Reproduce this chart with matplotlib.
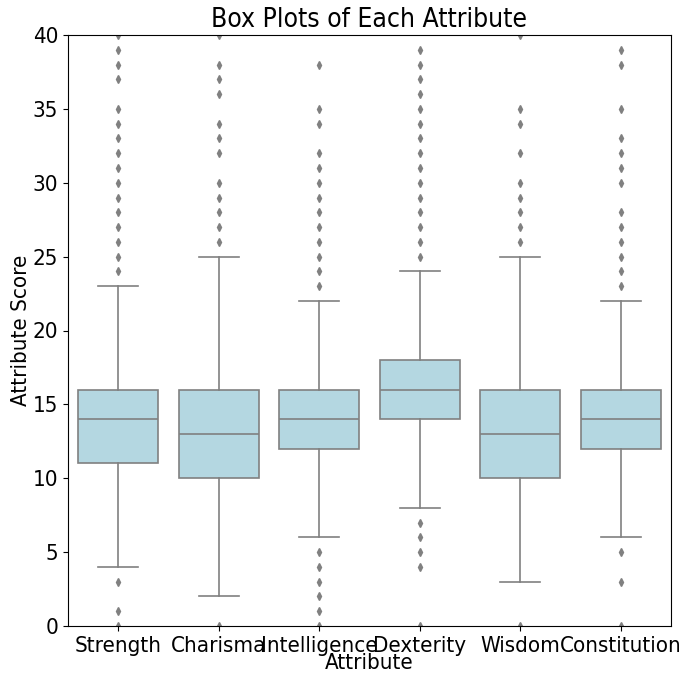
import matplotlib
matplotlib.use("Agg")
import matplotlib.pyplot as plt

# attribute box stats
attributes = ["Strength", "Charisma", "Intelligence", "Dexterity", "Wisdom", "Constitution"]
q1 = [11, 10, 12, 14, 10, 12]
medians = [14, 13, 14, 16, 13, 14]
q3 = [16, 16, 16, 18, 16, 16]
whisker_low = [4, 2, 6, 8, 3, 6]
whisker_high = [23, 25, 22, 24, 25, 22]

fliers = [
    [0, 1, 3, 24, 25, 26, 27, 28, 29, 30, 31, 32, 33, 34, 35, 37, 38, 39, 40],
    [0, 26, 27, 28, 29, 30, 32, 33, 34, 36, 37, 38, 40],
    [0, 1, 2, 3, 4, 5, 23, 24, 25, 26, 27, 28, 29, 30, 31, 32, 34, 35, 38],
    [0, 4, 5, 6, 7, 25, 26, 27, 28, 29, 30, 31, 32, 33, 34, 35, 36, 37, 38, 39],
    [0, 26, 27, 28, 29, 30, 32, 34, 35, 40],
    [0, 3, 5, 23, 24, 25, 26, 27, 28, 30, 31, 32, 33, 35, 38, 39],
]

plt.rcParams['font.family'] = 'DejaVu Sans'
plt.rcParams['font.stretch'] = 'condensed'

stats = []
for i in range(len(attributes)):
    stats.append({
        "label": attributes[i],
        "q1": q1[i], "med": medians[i], "q3": q3[i],
        "whislo": whisker_low[i], "whishi": whisker_high[i],
        "fliers": fliers[i],
    })

line_col = "#808080"
fig = plt.figure(figsize=(6.84, 6.74), dpi=100)
ax = fig.add_axes([68 / 684, 48 / 674, 603 / 684, 591 / 674])
ax.bxp(stats, positions=range(len(attributes)), widths=0.8, patch_artist=True,
       boxprops=dict(facecolor="#b4d7e1", edgecolor=line_col, linewidth=1.2),
       medianprops=dict(color=line_col, linewidth=1.2),
       whiskerprops=dict(color=line_col, linewidth=1.2),
       capprops=dict(color=line_col, linewidth=1.2),
       flierprops=dict(marker="d", markerfacecolor=line_col, markeredgecolor=line_col,
                       markersize=4, linestyle="none"))

ax.set_xlim(-0.5, len(attributes) - 0.5)
ax.set_ylim(0, 40)
ax.set_xticks(range(len(attributes)))
ax.set_xticklabels(attributes)
ax.tick_params(labelsize=16)
ax.set_title("Box Plots of Each Attribute", fontsize=19)
ax.set_xlabel("Attribute", fontsize=16, labelpad=-2)
ax.set_ylabel("Attribute Score", fontsize=16, labelpad=1)

fig.savefig("out.png", dpi=100)
